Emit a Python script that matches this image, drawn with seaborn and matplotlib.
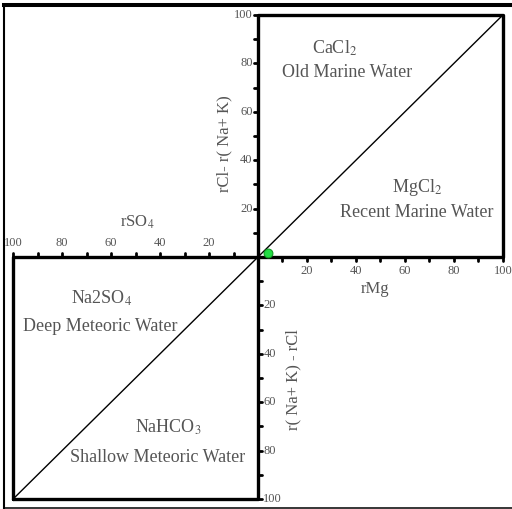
# Sulin diagram - genetic water type classification

import matplotlib.pyplot as plt
import numpy as np
import pandas as pd
import seaborn as sns

# sample point(s): rMg vs rCl - r(Na+K)
sample_rmg = [4.1]
sample_cl_nak = [1.7]

tick_values = list(range(10, 101, 10))
tick_labels = ["20", "40", "60", "80", "100"]

field_titles = ["CaCl$_2$", "MgCl$_2$", "Na2SO$_4$", "NaHCO$_3$"]
field_names = ["Old Marine Water", "Recent Marine Water",
               "Deep Meteoric Water", "Shallow Meteoric Water"]
title_pos = [(31.4, 86.4), (64.9, 28.9), (-63.7, -16.9), (-36.7, -70.2)]
name_pos = [(36.3, 76.4), (64.9, 18.2), (-64.5, -28.9), (-40.8, -83.0)]

sns.set_theme(style="white")
plt.rcParams["font.family"] = ["Liberation Serif", "DejaVu Serif"]
plt.rcParams["mathtext.fontset"] = "stix"

LIM = 100
TICK = 1.6
GREY = "#555555"

fig = plt.figure(figsize=(5.12, 5.09), dpi=100)
fig.patch.set_facecolor("white")
# axes inset a few pixels; its spines form the image border (no right edge)
ax = fig.add_axes([4 / 512, 1 / 509, 508 / 512, 503 / 509])
ax.set_xlim(-103.7, 103.7)
ax.set_ylim(-103.7, 104.1)
ax.set_facecolor("white")
ax.set_xticks([])
ax.set_yticks([])
for sp in ax.spines.values():
    sp.set_color("black")
ax.spines["top"].set_linewidth(2.9)
ax.spines["left"].set_linewidth(1.5)
ax.spines["bottom"].set_linewidth(1.1)
ax.spines["right"].set_visible(False)

# quadrant frames
ax.plot([0, LIM, LIM, 0, 0], [0, 0, LIM, LIM, 0], color="black", lw=2.4)
ax.plot([-LIM, 0, 0, -LIM, -LIM], [-LIM, -LIM, 0, 0, -LIM], color="black", lw=2.4)

# diagonal dividing line
ax.plot([-LIM, LIM], [-LIM, LIM], color="black", lw=1.0)

# ticks along the four axes
for t in tick_values:
    ax.plot([t, t], [0, -TICK], color="black", lw=2)
    ax.plot([-t, -t], [0, TICK], color="black", lw=2)
    ax.plot([0, -TICK], [t, t], color="black", lw=2)
    ax.plot([0, TICK], [-t, -t], color="black", lw=2)

for t, lab in zip(tick_values[1::2], tick_labels):
    ax.text(t, -3.2, lab, ha="center", va="top", fontsize=9, color=GREY)
    ax.text(-t, 3.2, lab, ha="center", va="bottom", fontsize=9, color=GREY)
    ax.text(-2.2, t, lab, ha="right", va="center", fontsize=9, color=GREY)
    ax.text(2.2, -t, lab, ha="left", va="center", fontsize=9, color=GREY)

# axis titles
ax.text(47.8, -13.2, "rMg", ha="center", va="center", fontsize=12, color=GREY)
ax.text(-49.4, 14.5, "rSO$_4$", ha="center", va="center", fontsize=12, color=GREY)
ax.text(-13.8, 47.0, "rCl- r( Na+ K)", ha="center", va="center",
        rotation=90, fontsize=12, color=GREY)
ax.text(14.3, -50.8, "r( Na+ K) - rCl", ha="center", va="center",
        rotation=90, fontsize=12, color=GREY)

# field labels
for title, (x, y) in zip(field_titles, title_pos):
    ax.text(x, y, title, ha="center", va="center", fontsize=13, color=GREY)
for name, (x, y) in zip(field_names, name_pos):
    ax.text(x, y, name, ha="center", va="center", fontsize=13, color=GREY)

# sample
df = pd.DataFrame({"rMg": sample_rmg, "cl_nak": sample_cl_nak})
sns.scatterplot(data=df, x="rMg", y="cl_nak", ax=ax, s=40, legend=False,
                color="#22dd44", edgecolor="#119922", linewidth=0.8, zorder=5)
ax.set_xlabel("")
ax.set_ylabel("")

fig.savefig("out.png", dpi=100, facecolor="white")
